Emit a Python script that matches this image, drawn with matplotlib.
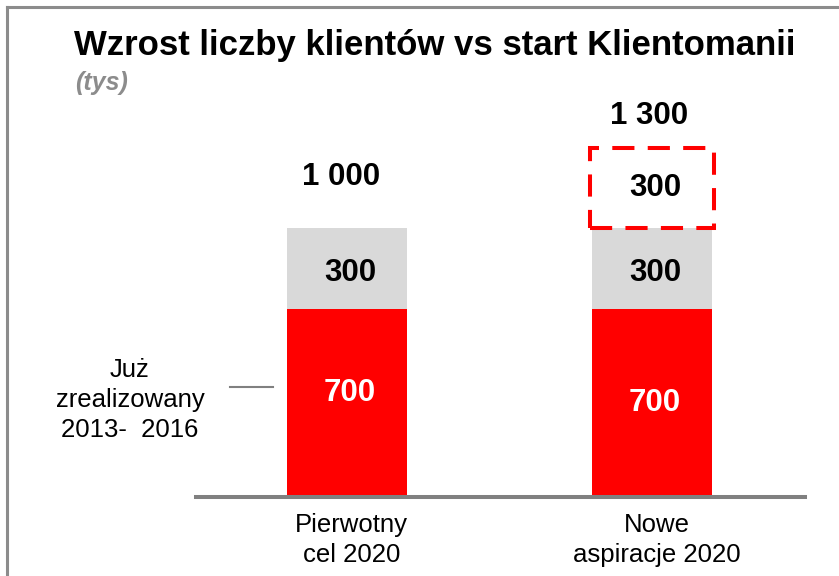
import matplotlib
matplotlib.use("Agg")
import matplotlib.pyplot as plt
from matplotlib.lines import Line2D
from matplotlib.patches import Rectangle

plt.rcParams['font.family'] = ['Liberation Sans', 'DejaVu Sans']

categories = ["Pierwotny\ncel 2020", "Nowe\naspiracje 2020"]
realized = [700, 700]
planned = [300, 300]
extra = [0, 300]
totals = ["1 000", "1 300"]
title = "Wzrost liczby klientów vs start Klientomanii"
subtitle = "(tys)"
note = "Już\nzrealizowany\n2013-  2016"

W, H = 839, 576
fig = plt.figure(figsize=(W / 100, H / 100), dpi=100)

def fx(px):
    return px / W

def fy(py):
    return 1 - py / H

# axes: baseline from x=196 to 805 px at y=497 px
ax = fig.add_axes([fx(196), fy(497), (805 - 196) / W, (497 - 94) / H])
ax.set_xlim(-0.495, 1.502)
ax.set_ylim(0, 1500)
for s in ["top", "right", "left"]:
    ax.spines[s].set_visible(False)
ax.spines["bottom"].set_color("#808080")
ax.spines["bottom"].set_linewidth(2.9)
ax.set_yticks([])
ax.set_xticks([])
ax.patch.set_alpha(0)

red = "#FF0000"
grey = "#D9D9D9"
bw = 0.393
x = [0, 1]
ax.bar(x, realized, width=bw, color=red, linewidth=0)
ax.bar(x, planned, width=bw, bottom=realized, color=grey, linewidth=0)

# dashed box for the additional aspiration
for i in range(len(x)):
    if extra[i] > 0:
        base = realized[i] + planned[i]
        w2 = bw * 1.04
        rect = Rectangle((x[i] - w2 / 2, base), w2, extra[i], fill=False,
                         edgecolor=red, linewidth=2.9, linestyle=(0, (5.5, 3.3)),
                         clip_on=False)
        ax.add_patch(rect)
        ax.text(x[i] + 0.01, base + extra[i] / 2, str(extra[i]), ha="center",
                va="center", fontsize=22.5, fontweight="bold", color="black")

# labels within bars
red_label_y = [387, 350]
for i in range(len(x)):
    ax.text(x[i] + 0.01, red_label_y[i], str(realized[i]), ha="center", va="center",
            fontsize=22.5, fontweight="bold", color="white")
    ax.text(x[i] + 0.01, realized[i] + planned[i] / 2 - 18, str(planned[i]),
            ha="center", va="center", fontsize=22.5, fontweight="bold",
            color="black")

# totals
total_y = [1191, 1418]
total_dx = [-0.02, -0.01]
for i in range(len(x)):
    ax.text(x[i] + total_dx[i], total_y[i], totals[i], ha="center", va="center",
            fontsize=22.5, fontweight="bold", color="black")

# category labels
for i in range(len(x)):
    ax.text(x[i] + 0.015, -60, categories[i], ha="center", va="top",
            fontsize=18.5, color="black", linespacing=1.3)

# title and subtitle
fig.text(fx(74), fy(46), title, ha="left", va="center", fontsize=25,
         fontweight="bold", color="black")
fig.text(fx(75), fy(83), subtitle, ha="left", va="center", fontsize=18,
         fontweight="bold", fontstyle="italic", color="#8C8C8C")

# annotation on the left
fig.text(fx(130), fy(400), note, ha="center", va="center", fontsize=18.5,
         color="black", linespacing=1.3)
fig.add_artist(Line2D([fx(230), fx(273)], [fy(387), fy(387)], color="#808080",
                      linewidth=1.5))

# frame (left and top)
fig.add_artist(Line2D([fx(7), fx(7)], [fy(7), 0], color="#8C8C8C", linewidth=2.2))
fig.add_artist(Line2D([fx(7), 1], [fy(7), fy(7)], color="#8C8C8C", linewidth=2.2))

fig.savefig("out.png", dpi=100)
